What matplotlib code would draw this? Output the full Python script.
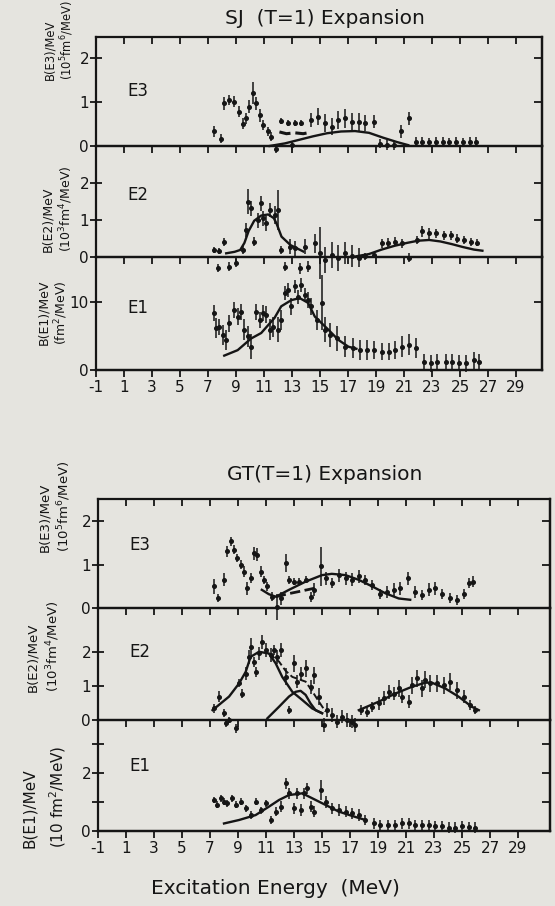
import matplotlib
matplotlib.use('Agg')
from matplotlib import pyplot as plt

ink = '#151515'
paper = '#e5e4df'

energy_ticks = list(range(-1, 31, 2))

# ---------------- SJ (T=1) expansion ----------------
sj_e3_x = [7.44, 7.92, 8.16, 8.52, 8.88, 9.24, 9.48, 9.72, 9.96, 10.2,
           10.44, 10.68, 10.92, 11.27, 11.5, 11.85, 12.23, 12.71, 13.0, 13.19,
           13.67, 14.39, 14.87, 15.35, 15.83, 16.31, 16.79, 17.27, 17.75, 18.23,
           18.83, 19.31, 19.79, 20.27, 20.75, 21.35, 21.83, 22.3, 22.8, 23.3,
           23.75, 24.2, 24.7, 25.2, 25.7, 26.15]
sj_e3_y = [0.33, 0.17, 0.97, 1.05, 1.01, 0.78, 0.51, 0.63, 0.89, 1.2,
           0.97, 0.7, 0.48, 0.33, 0.21, -0.06, 0.56, 0.53, 0.02, 0.53,
           0.52, 0.59, 0.67, 0.52, 0.44, 0.59, 0.63, 0.55, 0.55, 0.52,
           0.55, 0.05, 0.02, 0.02, 0.33, 0.63, 0.1, 0.1, 0.08, 0.1,
           0.1, 0.08, 0.1, 0.08, 0.1, 0.1]
sj_e3_err = [0.12, 0.1, 0.15, 0.12, 0.12, 0.12, 0.12, 0.12, 0.15, 0.25,
             0.15, 0.15, 0.12, 0.1, 0.1, 0.1, 0.07, 0.07, 0.1, 0.07,
             0.07, 0.15, 0.2, 0.2, 0.2, 0.2, 0.22, 0.2, 0.2, 0.18,
             0.15, 0.1, 0.12, 0.1, 0.15, 0.15, 0.1, 0.1, 0.1, 0.1,
             0.1, 0.1, 0.1, 0.1, 0.1, 0.1]
sj_e3_fit_x = [11.4, 12.5, 13.5, 14.5, 15.5, 16.5, 17.5, 18.5, 19.5, 20.5, 21.3]
sj_e3_fit_y = [0.0, 0.06, 0.14, 0.22, 0.29, 0.33, 0.34, 0.3, 0.19, 0.09, 0.02]
sj_e3_dash_x = [12.1, 12.6, 13.2, 13.8, 14.3]
sj_e3_dash_y = [0.32, 0.28, 0.3, 0.28, 0.31]

sj_e2_x = [7.44, 7.68, 7.8, 8.16, 8.52, 9.0, 9.48, 9.72, 9.84, 10.08,
           10.32, 10.56, 10.8, 10.92, 11.16, 11.4, 11.75, 11.99, 12.23, 12.47,
           12.83, 13.19, 13.55, 13.91, 14.15, 14.63, 14.99, 15.35, 15.83, 16.31,
           16.79, 17.27, 17.75, 18.23, 18.83, 19.43, 19.86, 20.39, 20.87, 21.35,
           21.95, 22.31, 22.79, 23.27, 23.86, 24.34, 24.82, 25.3, 25.78, 26.19]
sj_e2_y = [0.19, -0.3, 0.15, 0.41, -0.26, -0.16, 0.19, 0.73, 1.5, 1.32,
           0.41, 0.99, 1.45, 1.05, 0.91, 1.27, 1.14, 1.27, 0.19, -0.26,
           0.28, 0.23, -0.3, 0.28, -0.26, 0.37, 0.1, -0.07, 0.06, -0.03,
           0.1, 0.02, -0.02, 0.02, 0.06, 0.37, 0.39, 0.41, 0.37, -0.02,
           0.46, 0.69, 0.64, 0.64, 0.59, 0.59, 0.5, 0.46, 0.41, 0.39]
sj_e2_err = [0.08, 0.1, 0.08, 0.1, 0.12, 0.1, 0.1, 0.2, 0.35, 0.2,
             0.12, 0.2, 0.2, 0.2, 0.2, 0.2, 0.25, 0.55, 0.1, 0.12,
             0.2, 0.2, 0.15, 0.2, 0.15, 0.25, 0.7, 0.35, 0.35, 0.35,
             0.3, 0.3, 0.25, 0.1, 0.08, 0.12, 0.12, 0.12, 0.12, 0.12,
             0.12, 0.15, 0.15, 0.12, 0.12, 0.12, 0.12, 0.12, 0.1, 0.1]
sj_e2_fit1_x = [8.3, 8.9, 9.3, 9.6, 9.9, 10.3, 10.8, 11.3, 11.7, 11.9, 12.25, 12.9, 13.8]
sj_e2_fit1_y = [0.1, 0.14, 0.19, 0.38, 0.7, 0.98, 1.12, 1.15, 1.05, 0.9, 0.55, 0.32, 0.15]
sj_e2_fit2_x = [17.6, 18.5, 19.4, 20.3, 21.2, 22.0, 22.8, 23.6, 24.4, 25.2, 26.0, 26.6]
sj_e2_fit2_y = [0.02, 0.08, 0.2, 0.3, 0.38, 0.44, 0.46, 0.42, 0.35, 0.27, 0.2, 0.17]

sj_e1_x = [7.44, 7.56, 7.8, 8.04, 8.28, 8.52, 8.88, 9.12, 9.36, 9.6,
           9.84, 10.08, 10.44, 10.68, 10.92, 11.16, 11.4, 11.64, 11.99, 12.23,
           12.47, 12.71, 12.95, 13.19, 13.43, 13.67, 13.91, 14.15, 14.39, 14.75,
           15.11, 15.35, 15.71, 16.19, 16.79, 17.39, 17.87, 18.35, 18.83, 19.43,
           19.91, 20.39, 20.87, 21.35, 21.83, 22.43, 22.9, 23.39, 23.98, 24.46,
           24.94, 25.42, 26.0, 26.38]
sj_e1_y = [8.3, 6.1, 6.3, 5.1, 4.4, 6.8, 8.8, 7.8, 8.5, 5.9,
           4.9, 3.4, 8.5, 7.3, 8.3, 8.1, 5.9, 6.3, 5.9, 7.3,
           11.2, 11.7, 9.3, 12.2, 10.7, 12.4, 11.0, 10.2, 9.3, 7.3,
           9.8, 5.9, 5.1, 4.6, 3.4, 3.2, 2.9, 2.9, 2.9, 2.7,
           2.7, 2.9, 3.4, 3.7, 3.2, 1.2, 0.97, 1.2, 1.2, 1.2,
           1.0, 0.97, 1.4, 1.2]
sj_e1_err = [1.2, 1.5, 1.2, 1.5, 1.5, 1.2, 1.2, 1.2, 1.2, 1.5,
             1.5, 1.8, 1.2, 1.2, 1.2, 1.2, 1.5, 1.5, 1.8, 1.5,
             1.0, 1.0, 1.2, 1.0, 1.0, 1.0, 1.0, 1.2, 1.2, 1.5,
             4.0, 1.8, 1.8, 1.8, 1.5, 1.5, 1.5, 1.5, 1.3, 1.3,
             1.3, 1.3, 1.5, 1.5, 1.5, 1.2, 1.2, 1.2, 1.2, 1.2,
             1.2, 1.2, 1.2, 1.2]
sj_e1_fit_x = [8.16, 9.12, 10.08, 10.8, 11.75, 12.23, 12.95, 13.55, 14.15, 14.63, 15.59, 16.31, 17.03, 17.6]
sj_e1_fit_y = [2.1, 2.9, 4.6, 5.4, 7.6, 9.3, 10.2, 10.5, 9.8, 7.8, 5.9, 4.4, 3.4, 3.1]

# ---------------- GT (T=1) expansion ----------------
gt_e3_x = [7.29, 7.6, 8.0, 8.24, 8.48, 8.72, 8.96, 9.19, 9.43, 9.67,
           9.91, 10.14, 10.38, 10.62, 10.86, 11.1, 11.45, 11.8, 12.05, 12.4,
           12.64, 13.0, 13.35, 13.83, 14.18, 14.42, 14.9, 15.25, 15.73, 16.2,
           16.68, 17.15, 17.63, 18.1, 18.58, 19.17, 19.65, 20.12, 20.6, 21.14,
           21.66, 22.14, 22.61, 23.09, 23.56, 24.16, 24.63, 25.11, 25.47, 25.82]
gt_e3_y = [0.5, 0.23, 0.65, 1.31, 1.54, 1.35, 1.16, 1.0, 0.84, 0.46,
           0.69, 1.27, 1.23, 0.84, 0.65, 0.5, 0.26, 0.03, 0.23, 1.04,
           0.65, 0.61, 0.61, 0.65, 0.26, 0.42, 0.96, 0.69, 0.58, 0.76,
           0.69, 0.65, 0.73, 0.65, 0.53, 0.33, 0.37, 0.42, 0.46, 0.69,
           0.37, 0.3, 0.42, 0.46, 0.33, 0.23, 0.19, 0.33, 0.58, 0.61]
gt_e3_err = [0.18, 0.1, 0.15, 0.12, 0.1, 0.1, 0.1, 0.1, 0.12, 0.15,
             0.12, 0.15, 0.15, 0.12, 0.1, 0.1, 0.1, 0.3, 0.15, 0.2,
             0.1, 0.08, 0.08, 0.08, 0.12, 0.15, 0.45, 0.15, 0.12, 0.15,
             0.15, 0.15, 0.15, 0.12, 0.12, 0.12, 0.15, 0.15, 0.15, 0.15,
             0.15, 0.12, 0.15, 0.15, 0.12, 0.12, 0.12, 0.12, 0.12, 0.12]
gt_e3_fit_x = [10.7, 11.2, 11.7, 12.64, 13.83, 15.0, 15.7, 16.68, 17.63, 18.58, 19.53, 20.48, 21.3]
gt_e3_fit_y = [0.42, 0.32, 0.26, 0.42, 0.61, 0.76, 0.79, 0.76, 0.65, 0.5, 0.34, 0.22, 0.19]
gt_e3_dash_x = [11.7, 12.6, 13.5, 14.5]
gt_e3_dash_y = [0.26, 0.33, 0.39, 0.46]

gt_e2_x = [7.29, 7.65, 8.0, 8.13, 8.36, 8.84, 9.08, 9.31, 9.55, 9.79,
           9.9, 10.14, 10.31, 10.5, 10.74, 11.02, 11.33, 11.57, 11.8, 12.04,
           12.4, 12.64, 13.0, 13.23, 13.47, 13.83, 14.18, 14.42, 14.78, 15.13,
           15.37, 15.73, 16.08, 16.44, 16.8, 17.15, 17.39, 17.75, 18.2, 18.58,
           19.05, 19.41, 19.76, 20.12, 20.48, 20.71, 21.19, 21.43, 21.78, 22.14,
           22.38, 22.73, 23.21, 23.68, 24.16, 24.63, 25.11, 25.58, 25.94]
gt_e2_y = [0.34, 0.69, 0.2, -0.1, 0.0, -0.25, 1.08, 0.78, 1.37, 1.86,
           2.16, 1.72, 1.42, 1.96, 2.3, 2.06, 1.91, 2.06, 1.86, 2.06,
           1.27, 0.29, 1.67, 1.13, 1.37, 1.52, 0.98, 1.32, 0.69, -0.15,
           0.29, 0.15, -0.05, 0.1, 0.0, -0.05, -0.15, 0.29, 0.24, 0.39,
           0.49, 0.64, 0.83, 0.78, 0.93, 0.69, 0.54, 1.03, 1.23, 0.93,
           1.18, 1.08, 1.08, 1.03, 1.13, 0.88, 0.69, 0.44, 0.29]
gt_e2_err = [0.12, 0.15, 0.12, 0.12, 0.1, 0.12, 0.12, 0.12, 0.2, 0.2,
             0.25, 0.15, 0.15, 0.2, 0.2, 0.2, 0.2, 0.15, 0.2, 0.2,
             0.25, 0.12, 0.25, 0.2, 0.2, 0.25, 0.2, 0.25, 0.25, 0.2,
             0.2, 0.2, 0.2, 0.2, 0.2, 0.2, 0.2, 0.15, 0.15, 0.15,
             0.2, 0.2, 0.2, 0.2, 0.25, 0.2, 0.2, 0.25, 0.25, 0.25,
             0.25, 0.25, 0.25, 0.25, 0.25, 0.25, 0.2, 0.15, 0.12]
gt_e2_fit1_x = [7.18, 8.36, 9.08, 9.55, 9.9, 10.5, 11.21, 11.69, 12.16, 12.88, 13.59, 14.3, 15.01]
gt_e2_fit1_y = [0.29, 0.69, 1.08, 1.42, 1.86, 2.01, 1.96, 1.67, 1.27, 0.83, 0.59, 0.34, 0.2]
gt_e2_fit2_x = [11.1, 11.93, 12.64, 13.11, 13.47, 13.83, 14.18, 14.54, 15.0]
gt_e2_fit2_y = [0.05, 0.39, 0.69, 0.83, 0.86, 0.74, 0.49, 0.29, 0.2]
gt_e2_sum_x = [11.21, 11.93, 12.4, 12.88, 13.35, 13.83, 14.3, 14.78, 15.25]
gt_e2_sum_y = [1.96, 1.72, 1.45, 1.27, 1.2, 1.13, 0.85, 0.54, 0.25]
gt_e2_fit3_x = [17.63, 19.05, 20.24, 21.43, 22.38, 22.85, 23.8, 24.75, 25.7, 26.2]
gt_e2_fit3_y = [0.29, 0.54, 0.78, 0.98, 1.1, 1.1, 0.93, 0.69, 0.39, 0.29]

gt_e1_x = [7.29, 7.53, 7.77, 8.01, 8.24, 8.6, 8.84, 9.19, 9.55, 9.91,
           10.26, 10.62, 10.98, 11.33, 11.69, 12.05, 12.4, 12.64, 13.0, 13.23,
           13.47, 13.71, 13.95, 14.18, 14.42, 14.9, 15.25, 15.73, 16.2, 16.68,
           17.15, 17.63, 18.1, 18.7, 19.17, 19.72, 20.24, 20.71, 21.19, 21.66,
           22.14, 22.61, 23.09, 23.56, 24.04, 24.5, 25.0, 25.47, 25.94]
gt_e1_y = [1.07, 0.9, 1.13, 1.01, 0.95, 1.13, 0.9, 1.01, 0.78, 0.55,
           1.01, 0.72, 0.95, 0.38, 0.67, 0.84, 1.64, 1.3, 0.78, 1.3,
           0.72, 1.3, 1.47, 0.84, 0.67, 1.41, 1.01, 0.78, 0.72, 0.67,
           0.61, 0.55, 0.38, 0.26, 0.2, 0.2, 0.2, 0.26, 0.26, 0.2,
           0.2, 0.2, 0.17, 0.17, 0.12, 0.12, 0.17, 0.14, 0.12]
gt_e1_err = [0.12, 0.12, 0.12, 0.12, 0.12, 0.12, 0.12, 0.12, 0.12, 0.15,
             0.12, 0.12, 0.12, 0.15, 0.15, 0.2, 0.2, 0.2, 0.2, 0.2,
             0.2, 0.2, 0.2, 0.2, 0.2, 0.35, 0.2, 0.2, 0.2, 0.2,
             0.2, 0.2, 0.18, 0.18, 0.18, 0.18, 0.18, 0.18, 0.18, 0.18,
             0.18, 0.18, 0.18, 0.18, 0.18, 0.18, 0.18, 0.18, 0.18]
gt_e1_fit_x = [8.0, 9.08, 10.26, 11.21, 11.93, 12.64, 13.59, 14.3, 15.25, 16.2, 17.15, 18.1]
gt_e1_fit_y = [0.26, 0.38, 0.55, 0.84, 1.07, 1.24, 1.3, 1.13, 0.9, 0.67, 0.52, 0.38]


W, H = 555, 906
fig = plt.figure(figsize=(W / 100, H / 100), dpi=100)
fig.patch.set_facecolor(paper)


def make_panel(left, right, top, bottom, ylim, yticks, ylabels, name, name_y, last):
    ax = fig.add_axes([left / W, 1 - bottom / H, (right - left) / W, (bottom - top) / H])
    ax.set_facecolor('none')
    ax.set_xlim(-1, -1 + (right - left) / 14.0)
    ax.set_ylim(*ylim)
    for s in ax.spines.values():
        s.set_linewidth(1.6)
        s.set_color(ink)
    ax.set_xticks(energy_ticks)
    ax.tick_params(axis='x', direction='in', top=True, bottom=False,
                   labelbottom=False, length=5, width=1.3, color=ink)
    ax.set_yticks(yticks, labels=ylabels)
    ax.tick_params(axis='y', direction='inout', length=8, width=1.3,
                   labelsize=11, colors=ink, pad=1)
    right_ax = ax.secondary_yaxis('right')
    right_ax.set_yticks([t for t in yticks if t > 0])
    right_ax.tick_params(direction='in', length=6, width=1.3, labelright=False, color=ink)
    right_ax.spines['right'].set_linewidth(1.6)
    if last:
        bot = ax.secondary_xaxis('bottom')
        bot.set_xticks(energy_ticks, labels=[str(t) for t in energy_ticks])
        bot.tick_params(direction='out', length=5, width=1.3, labelsize=11,
                        colors=ink, pad=2)
        bot.spines['bottom'].set_linewidth(1.6)
    ax.text(0.07, name_y, name, transform=ax.transAxes, fontsize=12,
            color=ink, va='center', ha='left')
    return ax


def draw_points(ax, x, y, err):
    cont = ax.errorbar(x, y, yerr=err, fmt='o', ms=2.6, color=ink,
                       elinewidth=1.1, capsize=0)
    for a in cont.get_children():
        a.set_clip_on(False)


def draw_curve(ax, x, y, ls='-', lw=1.7):
    ax.plot(x, y, ls, color=ink, lw=lw, clip_on=False)


# SJ group
ax = make_panel(96, 542, 37, 146, (0, 2.48), [0, 1, 2], ['0', '1', '2'], 'E3', 0.5, False)
draw_points(ax, sj_e3_x, sj_e3_y, sj_e3_err)
draw_curve(ax, sj_e3_fit_x, sj_e3_fit_y)
draw_curve(ax, sj_e3_dash_x, sj_e3_dash_y, '--', 2.2)

ax = make_panel(96, 542, 146, 257, (0, 3.0), [0, 1, 2], ['0', '1', '2'], 'E2', 0.56, False)
draw_points(ax, sj_e2_x, sj_e2_y, sj_e2_err)
draw_curve(ax, sj_e2_fit1_x, sj_e2_fit1_y)
draw_curve(ax, sj_e2_fit2_x, sj_e2_fit2_y)

ax = make_panel(96, 542, 257, 370, (0, 16.5), [0, 10], ['0', '10'], 'E1', 0.55, True)
draw_points(ax, sj_e1_x, sj_e1_y, sj_e1_err)
draw_curve(ax, sj_e1_fit_x, sj_e1_fit_y)

# GT group
ax = make_panel(98, 550, 499, 608, (0, 2.52), [0, 1, 2], ['0', '1', '2'], 'E3', 0.58, False)
draw_points(ax, gt_e3_x, gt_e3_y, gt_e3_err)
draw_curve(ax, gt_e3_fit_x, gt_e3_fit_y)
draw_curve(ax, gt_e3_dash_x, gt_e3_dash_y, '--', 2.0)

ax = make_panel(98, 550, 608, 720, (0, 3.3), [0, 1, 2], ['0', '1', '2'], 'E2', 0.61, False)
draw_points(ax, gt_e2_x, gt_e2_y, gt_e2_err)
draw_curve(ax, gt_e2_fit1_x, gt_e2_fit1_y)
draw_curve(ax, gt_e2_fit2_x, gt_e2_fit2_y)
draw_curve(ax, gt_e2_sum_x, gt_e2_sum_y, '--', 1.4)
draw_curve(ax, gt_e2_fit3_x, gt_e2_fit3_y)

ax = make_panel(98, 550, 720, 831, (0, 3.83), [0, 1, 2, 3], ['0', '', '2', ''], 'E1', 0.585, True)
draw_points(ax, gt_e1_x, gt_e1_y, gt_e1_err)
draw_curve(ax, gt_e1_fit_x, gt_e1_fit_y)

# titles, axis labels
fig.text(325 / W, 1 - 18 / H, 'SJ  (T=1) Expansion', ha='center', va='center',
         fontsize=14.5, color=ink)
fig.text(325 / W, 1 - 475 / H, 'GT(T=1) Expansion', ha='center', va='center',
         fontsize=14.5, color=ink)
fig.text(275 / W, 1 - 889 / H, 'Excitation Energy  (MeV)', ha='center', va='center',
         fontsize=14.5, color=ink)

ylabels = [
    (50, 67, 80, 8.3, 'B(E3)/MeV', r'(10$^5$fm$^6$/MeV)'),
    (48, 66, 252, 9, 'B(E2)/MeV', r'(10$^3$fm$^4$/MeV)'),
    (44, 61, 345, 9, 'B(E1)/MeV', r'(fm$^2$/MeV)'),
    (45, 64, 552, 9.5, 'B(E3)/MeV', r'(10$^5$fm$^6$/MeV)'),
    (33, 53, 692, 9.5, 'B(E2)/MeV', r'(10$^3$fm$^4$/MeV)'),
    (29, 58, 848, 11, 'B(E1)/MeV', r'(10 fm$^2$/MeV)'),
]
for x1, x2, yb, fs, l1, l2 in ylabels:
    fig.text(x1 / W, 1 - yb / H, l1, rotation=90, ha='center', va='bottom',
             fontsize=fs, color=ink)
    fig.text(x2 / W, 1 - yb / H, l2, rotation=90, ha='center', va='bottom',
             fontsize=fs, color=ink)

fig.savefig('out.png', dpi=100, facecolor=paper)
